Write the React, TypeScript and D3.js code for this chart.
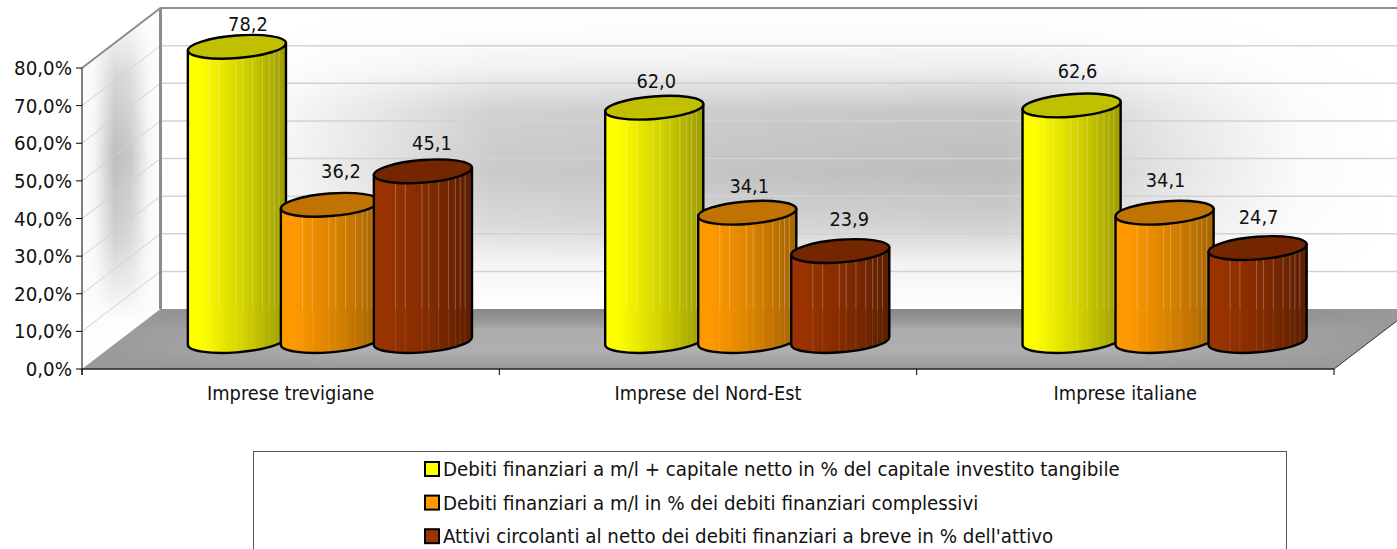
import React from "react";
import * as d3 from "d3";

const categories = ["Imprese trevigiane", "Imprese del Nord-Est", "Imprese italiane"];
const seriesNames = [
  "Debiti finanziari a m/l + capitale netto in % del capitale investito tangibile",
  "Debiti finanziari a m/l in % dei debiti finanziari complessivi",
  "Attivi circolanti al netto dei debiti finanziari a breve in % dell'attivo",
];
const debitiCapitale = [78.2, 62.0, 62.6];
const debitiComplessivi = [36.2, 34.1, 34.1];
const attiviCircolanti = [45.1, 23.9, 24.7];
const seriesValues = [debitiCapitale, debitiComplessivi, attiviCircolanti];
const yTicks = [0, 10, 20, 30, 40, 50, 60, 70, 80];

const labelNudges = [
  [[11, -16], [2, -20], [6, -27.5]],
  [[11, -27], [2, -20], [1, -26]],
  [[9, -21], [9, -25], [1, -24]],
];
const palette = [
  { light: "#ffff00", mid: "#d4d400", dark: "#9c9c00", top: "#c0c000", swatch: "#ffff00" },
  { light: "#ff9900", mid: "#d98200", dark: "#a56300", top: "#c07300", swatch: "#ff9900" },
  { light: "#993300", mid: "#822b00", dark: "#5c1f00", top: "#732600", swatch: "#993300" },
];
const stripeFractions = [0.22, 0.32, 0.49, 0.56, 0.66, 0.76, 0.83, 0.88, 0.93];

const font = "'DejaVu Sans Condensed','DejaVu Sans',sans-serif";
const fontSize = 20.3;
const axisFontSize = 19.8;
const W = 1397, H = 549;
const left = 82, right = 1334, y0 = 369, y80 = 68;
const dx = 78.5, dy = -60;
const floorBack = y0 + dy;

const y = d3.scaleLinear().domain([0, 80]).range([y0, y80]);
const band = d3.scaleBand<string>().domain(categories).range([left, right]);
const seriesX = d3.scalePoint<number>().domain([0, 1, 2]).range([-93, 93]);
const unit = y(0) - y(1);

const rx = 49.2, ry = 11.3, theta = 4.5;
const rad = (theta * Math.PI) / 180;
const extX = Math.sqrt(rx * rx * Math.cos(rad) ** 2 + ry * ry * Math.sin(rad) ** 2);
const extY = ((rx * rx - ry * ry) * Math.sin(rad) * Math.cos(rad)) / extX;
const baseY = y0 - 28;

function Cylinder({ cx, value, s, id }: { cx: number; value: number; s: number; id: string }) {
  const topY = baseY - value * unit;
  const body = `M${cx - extX},${topY + extY} L${cx - extX},${baseY + extY} A${rx},${ry} ${-theta} 0 0 ${cx + extX},${baseY - extY} L${cx + extX},${topY - extY} Z`;
  return (
    <g>
      <clipPath id={id}><path d={body} /></clipPath>
      <path d={body} fill={`url(#bar${s})`} />
      <g clipPath={`url(#${id})`}>
        {stripeFractions.map((f) => {
          const x = cx - extX + f * 2 * extX;
          return (
            <g key={f} stroke="#fff">
              <line x1={x} x2={x} y1={topY - 20} y2={floorBack} strokeOpacity={0.26} />
              <line x1={x} x2={x} y1={floorBack} y2={baseY + 20} strokeOpacity={0.1} />
            </g>
          );
        })}
      </g>
      <path d={body} fill="none" stroke="#000" strokeWidth={2.4} strokeLinejoin="round" />
      <ellipse cx={cx} cy={topY} rx={rx} ry={ry} transform={`rotate(${-theta} ${cx} ${topY})`}
        fill={palette[s].top} stroke="#000" strokeWidth={2.4} />
    </g>
  );
}

export default function App() {
  const floorPoints = `${left},${y0} ${left + dx},${floorBack} ${W + 5},${floorBack} ${W + 5},${y0 + (W + 5 - right) * (dy / dx)} ${right},${y0}`;
  const sidePoints = `${left},${y80} ${left + dx},${y80 + dy} ${left + dx},${y0 + dy} ${left},${y0}`;
  return (
    <svg width={W} height={H} viewBox={`0 0 ${W} ${H}`} fontFamily={font}
      style={{ position: "absolute", left: 0, top: 0, background: "#fff" }}>
      <defs>
        {palette.map((p, i) => (
          <linearGradient id={`bar${i}`} key={i} x1="0" x2="1" y1="0" y2="0">
            <stop offset="0" stopColor={p.light} />
            <stop offset="0.12" stopColor={p.light} />
            <stop offset="0.55" stopColor={p.mid} />
            <stop offset="1" stopColor={p.dark} />
          </linearGradient>
        ))}
        <linearGradient id="backV" x1="0" x2="0" y1="0" y2="1">
          <stop offset="0" stopColor="#fff" />
          <stop offset="0.1" stopColor="#fbfbfb" />
          <stop offset="0.2" stopColor="#eeeeee" />
          <stop offset="0.34" stopColor="#c6c6c6" />
          <stop offset="0.55" stopColor="#bcbcbc" />
          <stop offset="0.72" stopColor="#d0d0d0" />
          <stop offset="0.85" stopColor="#f2f2f2" />
          <stop offset="1" stopColor="#fff" />
        </linearGradient>
        <linearGradient id="backH" x1="0" x2="1" y1="0" y2="0">
          <stop offset="0" stopColor="#000" />
          <stop offset="0.1" stopColor="#222" />
          <stop offset="0.27" stopColor="#ccc" />
          <stop offset="0.68" stopColor="#fff" />
          <stop offset="0.8" stopColor="#777" />
          <stop offset="0.92" stopColor="#111" />
          <stop offset="1" stopColor="#000" />
        </linearGradient>
        <mask id="backMask" maskUnits="userSpaceOnUse" x={160} y={0} width={1240} height={320}>
          <rect x={160} y={0} width={1240} height={320} fill="url(#backH)" />
        </mask>
        <linearGradient id="sideH" x1="0" x2="1" y1="0" y2="0">
          <stop offset="0" stopColor="#fdfdfd" />
          <stop offset="0.16" stopColor="#f4f4f4" />
          <stop offset="0.42" stopColor="#bdbdbd" />
          <stop offset="0.62" stopColor="#c8c8c8" />
          <stop offset="0.85" stopColor="#f6f6f6" />
          <stop offset="1" stopColor="#fdfdfd" />
        </linearGradient>
        <linearGradient id="sideV" x1="0" x2="0" y1="0" y2="1">
          <stop offset="0.04" stopColor="#000" />
          <stop offset="0.2" stopColor="#999" />
          <stop offset="0.42" stopColor="#fff" />
          <stop offset="0.62" stopColor="#bbb" />
          <stop offset="0.86" stopColor="#000" />
        </linearGradient>
        <mask id="sideMask" maskUnits="userSpaceOnUse" x={80} y={0} width={84} height={372}>
          <rect x={80} y={0} width={84} height={372} fill="url(#sideV)" />
        </mask>
        <linearGradient id="floorV" x1="0" x2="0" y1="0" y2="1">
          <stop offset="0" stopColor="#000" stopOpacity="0.1" />
          <stop offset="0.35" stopColor="#fff" stopOpacity="0.2" />
          <stop offset="0.7" stopColor="#fff" stopOpacity="0.22" />
          <stop offset="1" stopColor="#fff" stopOpacity="0" />
        </linearGradient>
        <linearGradient id="floorH" x1="0" x2="1" y1="0" y2="0">
          <stop offset="0" stopColor="#000" />
          <stop offset="0.2" stopColor="#fff" />
          <stop offset="0.8" stopColor="#fff" />
          <stop offset="1" stopColor="#000" />
        </linearGradient>
        <mask id="floorMask" maskUnits="userSpaceOnUse" x={82} y={floorBack} width={1320} height={60}>
          <rect x={82} y={floorBack} width={1320} height={60} fill="url(#floorH)" />
        </mask>
      </defs>

      {/* back wall */}
      <rect x={left + dx} y={y(80) + dy} width={W - left - dx} height={y0 - y80} fill="#fff" />
      <rect x={left + dx} y={y(80) + dy} width={W - left - dx} height={y0 - y80} fill="url(#backV)" mask="url(#backMask)" />

      {/* side wall */}
      <polygon points={sidePoints} fill="#fdfdfd" />
      <polygon points={sidePoints} fill="url(#sideH)" mask="url(#sideMask)" />

      {/* gridlines */}
      {yTicks.slice(1, -1).map((t) => (
        <g key={t}>
          <line x1={left} x2={left + dx} y1={y(t)} y2={y(t) + dy} stroke="#d0d0d0" strokeWidth={1} />
          <line x1={left + dx} x2={W} y1={y(t) + dy} y2={y(t) + dy} stroke="#d2d2d2" strokeWidth={1.5} />
        </g>
      ))}

      {/* floor */}
      <polygon points={floorPoints} fill="#999999" />
      <polygon mask="url(#floorMask)" points={floorPoints} fill="url(#floorV)" />

      {/* frame */}
      <path d={`M${left},${y80} L${left + dx},${y80 + dy} L${W},${y80 + dy}`} fill="none" stroke="#8c8c8c" strokeWidth={2} />
      <line x1={left + dx} x2={left + dx} y1={y80 + dy} y2={floorBack} stroke="#8c8c8c" strokeWidth={3} />
      <line x1={right} x2={W + 5} y1={y0} y2={y0 + (W + 5 - right) * (dy / dx)} stroke="#333" strokeWidth={1} />

      {/* axes */}
      <line x1={left} x2={left} y1={y80} y2={y0 + 6} stroke="#000" strokeWidth={1} />
      <line x1={left} x2={right} y1={y0} y2={y0} stroke="#222" strokeWidth={1.5} />
      {yTicks.map((t) => (
        <g key={t}>
          <line x1={left - 6} x2={left} y1={y(t)} y2={y(t)} stroke="#000" />
          <text x={left - 10} y={y(t) + 7} textAnchor="end" fontSize={fontSize} fill="#111">
            {t.toFixed(1).replace(".", ",")}%
          </text>
        </g>
      ))}
      {categories.map((c, i) => (
        <g key={c}>
          <line x1={band(c)!} x2={band(c)!} y1={y0} y2={y0 + 6} stroke="#000" />
          {i === categories.length - 1 && <line x1={right} x2={right} y1={y0} y2={y0 + 6} stroke="#000" />}
          <text x={band(c)! + band.bandwidth() / 2} y={400} textAnchor="middle" fontSize={axisFontSize} fill="#111">{c}</text>
        </g>
      ))}

      {/* cylinders */}
      {categories.map((c, ci) =>
        seriesValues.map((vals, s) => (
          <Cylinder key={`${ci}-${s}`} id={`clip${ci}${s}`} s={s} value={vals[ci]}
            cx={band(c)! + band.bandwidth() / 2 + dx / 2 + seriesX(s)!} />
        ))
      )}

      {/* value labels */}
      {categories.map((c, ci) =>
        seriesValues.map((vals, s) => (
          <text key={`${ci}-${s}`} fontSize={axisFontSize} fill="#111" textAnchor="middle"
            x={band(c)! + band.bandwidth() / 2 + dx / 2 + seriesX(s)! + labelNudges[s][ci][0]}
            y={baseY - vals[ci] * unit + labelNudges[s][ci][1]}>
            {vals[ci].toFixed(1).replace(".", ",")}
          </text>
        ))
      )}

      {/* legend */}
      <rect x={253.5} y={451.5} width={1033} height={110} fill="#fff" stroke="#555" strokeWidth={1} />
      {seriesNames.map((n, i) => {
        const ly = 469 + i * 33.6;
        return (
          <g key={n}>
            <rect x={425} y={ly - 7} width={14} height={14} fill={palette[i].swatch} stroke="#000" strokeWidth={2} />
            <text x={443} y={ly + 7} fontSize={fontSize} fill="#111">{n}</text>
          </g>
        );
      })}
    </svg>
  );
}
